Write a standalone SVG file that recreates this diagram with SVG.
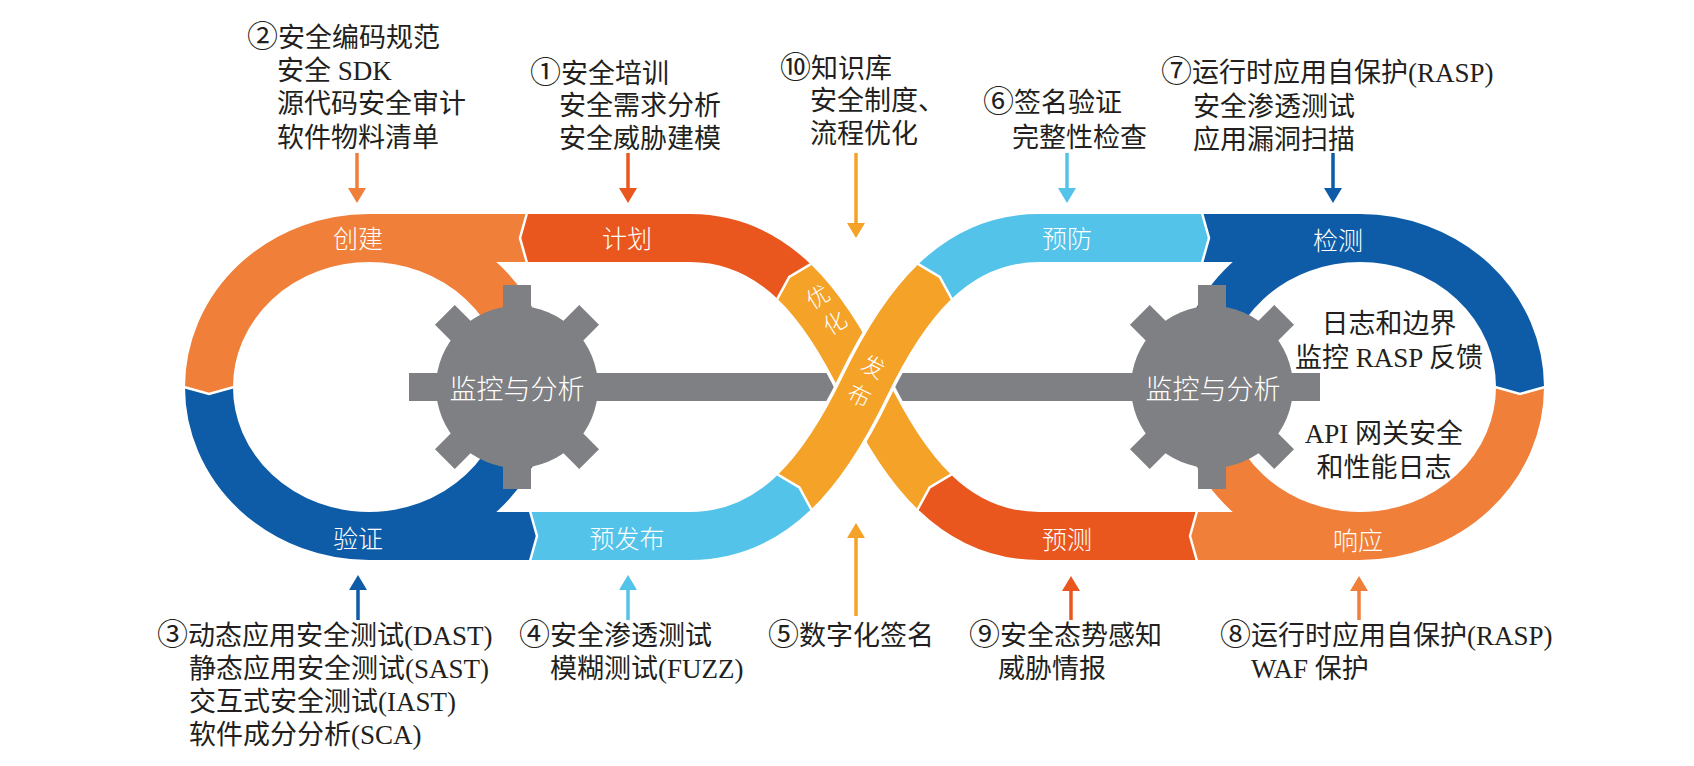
<svg xmlns="http://www.w3.org/2000/svg" xmlns:xlink="http://www.w3.org/1999/xlink" width="1694" height="766" viewBox="0 0 1694 766">
<defs>
<style>
.band{fill:none;stroke-width:48;stroke-linecap:butt}
.halo{fill:none;stroke:#fff;stroke-width:55;stroke-linecap:butt}
.gap{fill:none;stroke:#fff;stroke-width:2.5;stroke-linejoin:miter}
.ann{font-family:"Liberation Serif","Noto Sans CJK SC",serif;font-size:27px;fill:#231f20}
.cd{font-family:"Noto Sans CJK SC",sans-serif;font-size:31px}
.inn{font-family:"Liberation Serif","Noto Sans CJK SC",serif;font-size:27px;fill:#231f20;text-anchor:middle}
.lbl{font-family:"Noto Sans CJK SC",sans-serif;font-size:25px;font-weight:300;fill:#fff;text-anchor:middle}
.gtx{font-family:"Noto Sans CJK SC",sans-serif;font-size:27px;font-weight:300;fill:#fff;text-anchor:middle}
.arr{fill:none;stroke-width:3.5}
.gear{fill:#7f8083}
.c-or{stroke:#f07f3a}.c-rd{stroke:#e9571f}.c-ye{stroke:#f5a228}.c-lb{stroke:#53c3ea}.c-db{stroke:#0e5ca7}
</style>
<rect id="tooth" x="-14" y="-102" width="28" height="42"/>
<marker id="ah-or" viewBox="0 0 15 18" refX="5" refY="9" markerWidth="15" markerHeight="18" markerUnits="userSpaceOnUse" orient="auto"><path d="M0 0L15 9L0 18Z" fill="#f07f3a"/></marker>
<marker id="ah-rd" viewBox="0 0 15 18" refX="5" refY="9" markerWidth="15" markerHeight="18" markerUnits="userSpaceOnUse" orient="auto"><path d="M0 0L15 9L0 18Z" fill="#e9571f"/></marker>
<marker id="ah-ye" viewBox="0 0 15 18" refX="5" refY="9" markerWidth="15" markerHeight="18" markerUnits="userSpaceOnUse" orient="auto"><path d="M0 0L15 9L0 18Z" fill="#f5a228"/></marker>
<marker id="ah-lb" viewBox="0 0 15 18" refX="5" refY="9" markerWidth="15" markerHeight="18" markerUnits="userSpaceOnUse" orient="auto"><path d="M0 0L15 9L0 18Z" fill="#53c3ea"/></marker>
<marker id="ah-db" viewBox="0 0 15 18" refX="5" refY="9" markerWidth="15" markerHeight="18" markerUnits="userSpaceOnUse" orient="auto"><path d="M0 0L15 9L0 18Z" fill="#0e5ca7"/></marker>
</defs>
<rect width="1694" height="766" fill="#fff"/>

<g id="loop-bands">
  <g id="seg-create"><path class="band c-or" d="M209 387A160 149 0 0 1 529 387"/><path class="band c-or" d="M369 238H527"/></g>
  <g id="seg-verify"><path class="band c-db" d="M209 387A160 149 0 0 0 529 387"/><path class="band c-db" d="M369 536H530"/></g>
  <g id="seg-plan"><path class="band c-rd" d="M527 238H690C732.5 238 766.25 254.75 794.31 281.75"/></g>
  <g id="seg-prerelease"><path class="band c-lb" d="M530 536H690C732.5 536 766.25 519.25 794.31 492.25"/></g>
  <g id="seg-predict"><path class="band c-rd" d="M934.69 492.25C962.75 519.25 996.5 536 1039 536H1197"/></g>
  <g id="seg-respond"><path class="band c-or" d="M1197 536H1360"/><path class="band c-or" d="M1200 387A160 149 0 0 0 1520 387"/></g>
  <g id="seg-detect"><path class="band c-db" d="M1202 238H1360"/><path class="band c-db" d="M1200 387A160 149 0 0 1 1520 387"/></g>
  <g id="seg-prevent"><path class="band c-lb" d="M934.69 281.75C962.75 254.75 996.5 238 1039 238H1202"/></g>
</g>

<g id="shaft"><rect class="gear" x="409" y="373" width="911" height="28"/></g>

<g id="gear-left" transform="translate(517 387)">
  <circle class="gear" r="81"/>
  <use xlink:href="#tooth" class="gear"/>
  <use xlink:href="#tooth" class="gear" transform="rotate(45)"/>
  <use xlink:href="#tooth" class="gear" transform="rotate(90)"/>
  <use xlink:href="#tooth" class="gear" transform="rotate(135)"/>
  <use xlink:href="#tooth" class="gear" transform="rotate(180)"/>
  <use xlink:href="#tooth" class="gear" transform="rotate(225)"/>
  <use xlink:href="#tooth" class="gear" transform="rotate(270)"/>
  <use xlink:href="#tooth" class="gear" transform="rotate(315)"/>
  <text class="gtx" x="0" y="12">监控与分析</text>
</g>
<g id="gear-right" transform="translate(1212 387)">
  <circle class="gear" r="81"/>
  <use xlink:href="#tooth" class="gear"/>
  <use xlink:href="#tooth" class="gear" transform="rotate(45)"/>
  <use xlink:href="#tooth" class="gear" transform="rotate(90)"/>
  <use xlink:href="#tooth" class="gear" transform="rotate(135)"/>
  <use xlink:href="#tooth" class="gear" transform="rotate(180)"/>
  <use xlink:href="#tooth" class="gear" transform="rotate(225)"/>
  <use xlink:href="#tooth" class="gear" transform="rotate(270)"/>
  <use xlink:href="#tooth" class="gear" transform="rotate(315)"/>
  <text class="gtx" x="1" y="12">监控与分析</text>
</g>

<g id="crossing">
  <g id="seg-optimize">
    <path class="halo" d="M794.31 281.75C822.375 308.75 844.75 346 864.5 387C884.25 428 906.625 465.25 934.69 492.25"/>
    <path class="band c-ye" d="M794.31 281.75C822.375 308.75 844.75 346 864.5 387C884.25 428 906.625 465.25 934.69 492.25"/>
  </g>
  <g id="seg-release">
    <path class="halo" d="M794.31 492.25C822.375 465.25 844.75 428 864.5 387C884.25 346 906.625 308.75 934.69 281.75"/>
    <path class="band c-ye" d="M794.31 492.25C822.375 465.25 844.75 428 864.5 387C884.25 346 906.625 308.75 934.69 281.75"/>
  </g>
</g>

<g id="segment-tips">
  <polygon fill="#f07f3a" points="185,385 233,385 233,387 209,394 185,387"/>
  <polygon fill="#0e5ca7" points="528,512 530,512 537,536 530,560 528,560"/>
  <polygon fill="#53c3ea" points="809.51,510.93 810.95,509.54 799.35,487.40 777.67,474.96 776.23,476.35"/>
  <polygon fill="#f5a228" points="949.89,300.43 951.33,299.04 939.73,276.90 918.05,264.46 916.61,265.85"/>
  <polygon fill="#53c3ea" points="1200,214 1202,214 1209,238 1202,262 1200,262"/>
  <polygon fill="#0e5ca7" points="1496,385 1544,385 1544,387 1520,394 1496,387"/>
  <polygon fill="#f07f3a" points="1199,512 1197,512 1190,536 1197,560 1199,560"/>
  <polygon fill="#e9571f" points="952.77,476.35 951.33,474.96 929.65,487.40 918.05,509.54 919.49,510.93"/>
  <polygon fill="#f5a228" points="812.39,265.85 810.95,264.46 789.27,276.90 777.67,299.04 779.11,300.43"/>
  <polygon fill="#e9571f" points="529,214 527,214 520,238 527,262 529,262"/>
</g>
<g id="segment-gaps">
  <polyline class="gap" points="184,387 209,394 234,387"/>
  <polyline class="gap" points="530,511 537,536 530,561"/>
  <polyline class="gap" points="811.99,510.62 799.35,487.40 776.63,473.88"/>
  <polyline class="gap" points="952.37,300.12 939.73,276.90 917.01,263.38"/>
  <polyline class="gap" points="1202,213 1209,238 1202,263"/>
  <polyline class="gap" points="1495,387 1520,394 1545,387"/>
  <polyline class="gap" points="1197,511 1190,536 1197,561"/>
  <polyline class="gap" points="952.37,473.88 929.65,487.40 917.01,510.62"/>
  <polyline class="gap" points="811.99,263.38 789.27,276.90 776.63,300.12"/>
  <polyline class="gap" points="527,213 520,238 527,263"/>
</g>

<g id="band-labels">
  <text class="lbl" x="358" y="248">创建</text>
  <text class="lbl" x="627" y="248">计划</text>
  <text class="lbl" x="1067" y="248">预防</text>
  <text class="lbl" x="1338" y="250">检测</text>
  <text class="lbl" x="358" y="548">验证</text>
  <text class="lbl" x="627" y="548">预发布</text>
  <text class="lbl" x="1067" y="549">预测</text>
  <text class="lbl" x="1358" y="550">响应</text>
  <text class="lbl" style="font-size:23px" transform="translate(818 297) rotate(-32)" y="8">优</text>
  <text class="lbl" style="font-size:23px" transform="translate(835 323) rotate(-32)" y="8">化</text>
  <text class="lbl" style="font-size:23px" transform="translate(873 367) rotate(26)" y="8">发</text>
  <text class="lbl" style="font-size:23px" transform="translate(859 396) rotate(26)" y="8">布</text>
</g>

<g id="connectors">
  <line class="arr c-or" x1="357" y1="153" x2="357" y2="193" marker-end="url(#ah-or)"/>
  <line class="arr c-rd" x1="628" y1="153" x2="628" y2="193" marker-end="url(#ah-rd)"/>
  <line class="arr c-ye" x1="856" y1="153" x2="856" y2="228" marker-end="url(#ah-ye)"/>
  <line class="arr c-lb" x1="1067" y1="153" x2="1067" y2="193" marker-end="url(#ah-lb)"/>
  <line class="arr c-db" x1="1333" y1="153" x2="1333" y2="193" marker-end="url(#ah-db)"/>
  <line class="arr c-db" x1="358" y1="620" x2="358" y2="585" marker-end="url(#ah-db)"/>
  <line class="arr c-lb" x1="628" y1="620" x2="628" y2="585" marker-end="url(#ah-lb)"/>
  <line class="arr c-ye" x1="856" y1="616" x2="856" y2="533" marker-end="url(#ah-ye)"/>
  <line class="arr c-rd" x1="1071" y1="620" x2="1071" y2="586" marker-end="url(#ah-rd)"/>
  <line class="arr c-or" x1="1359" y1="620" x2="1359" y2="586" marker-end="url(#ah-or)"/>
</g>

<g id="note-2"><text class="ann" x="247" y="47"><tspan class="cd">②</tspan>安全编码规范</text><text class="ann" x="277" y="80">安全 SDK</text><text class="ann" x="277" y="113">源代码安全审计</text><text class="ann" x="277" y="147">软件物料清单</text></g>
<g id="note-1"><text class="ann" x="530" y="83"><tspan class="cd">①</tspan>安全培训</text><text class="ann" x="559" y="115">安全需求分析</text><text class="ann" x="559" y="148">安全威胁建模</text></g>
<g id="note-10"><text class="ann" x="780" y="78"><tspan class="cd">⑩</tspan>知识库</text><text class="ann" x="810" y="110">安全制度、</text><text class="ann" x="810" y="143">流程优化</text></g>
<g id="note-6"><text class="ann" x="983" y="112"><tspan class="cd">⑥</tspan>签名验证</text><text class="ann" x="1012" y="147">完整性检查</text></g>
<g id="note-7"><text class="ann" x="1161" y="82"><tspan class="cd">⑦</tspan>运行时应用自保护(RASP)</text><text class="ann" x="1193" y="116">安全渗透测试</text><text class="ann" x="1193" y="149">应用漏洞扫描</text></g>
<g id="note-3"><text class="ann" x="157" y="645"><tspan class="cd">③</tspan>动态应用安全测试(DAST)</text><text class="ann" x="189" y="678">静态应用安全测试(SAST)</text><text class="ann" x="189" y="711">交互式安全测试(IAST)</text><text class="ann" x="189" y="744">软件成分分析(SCA)</text></g>
<g id="note-4"><text class="ann" x="519" y="645"><tspan class="cd">④</tspan>安全渗透测试</text><text class="ann" x="550" y="678">模糊测试(FUZZ)</text></g>
<g id="note-5"><text class="ann" x="768" y="645"><tspan class="cd">⑤</tspan>数字化签名</text></g>
<g id="note-9"><text class="ann" x="969" y="645"><tspan class="cd">⑨</tspan>安全态势感知</text><text class="ann" x="998" y="678">威胁情报</text></g>
<g id="note-8"><text class="ann" x="1220" y="645"><tspan class="cd">⑧</tspan>运行时应用自保护(RASP)</text><text class="ann" x="1251" y="678">WAF 保护</text></g>
<g id="inner-notes"><text class="inn" x="1389" y="333">日志和边界</text><text class="inn" x="1389" y="367">监控 RASP 反馈</text><text class="inn" x="1384" y="443">API 网关安全</text><text class="inn" x="1384" y="477">和性能日志</text></g>
</svg>
